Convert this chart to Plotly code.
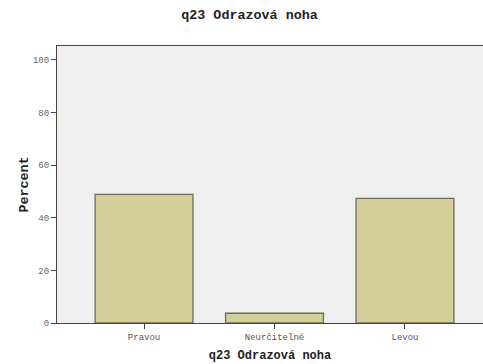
import plotly.graph_objects as go

# Share of respondents by take-off leg
categories = ["Pravou", "Neurčitelné", "Levou"]
percent = [48.9, 3.7, 47.4]
y_ticks = [0, 20, 40, 60, 80, 100]

mono = "Liberation Mono"

fig = go.Figure(
    go.Bar(
        x=categories,
        y=percent,
        width=0.75,
        marker=dict(color="#d4cf98", line=dict(color="#6e6c58", width=1.3)),
        hoverinfo="x+y",
    )
)

fig.update_layout(
    width=483,
    height=364,
    margin=dict(l=57, r=0, t=46, b=41),
    paper_bgcolor="white",
    plot_bgcolor="#efefef",
    showlegend=False,
    title=dict(
        text="<b>q23 Odrazová noha</b>",
        x=0.5166,
        xanchor="center",
        xref="container",
        y=0.96,
        yanchor="middle",
        font=dict(family=mono, size=13.4, color="#222"),
    ),
    bargap=0.25,
)

fig.update_xaxes(
    range=[-0.667, 2.598],
    showline=True,
    linecolor="#444",
    linewidth=1.2,
    mirror=True,
    ticks="outside",
    ticklen=5,
    tickcolor="#444",
    tickfont=dict(family=mono, size=9, color="#555"),
    title=dict(
        text="<b>q23 Odrazová noha</b>",
        font=dict(family=mono, size=12, color="#222"),
        standoff=8,
    ),
    showgrid=False,
)

fig.update_yaxes(
    range=[0, 105.3],
    tickvals=y_ticks,
    showline=True,
    linecolor="#444",
    linewidth=1.2,
    ticks="outside",
    ticklen=5,
    tickcolor="#444",
    tickfont=dict(family=mono, size=9, color="#666"),
    title=dict(
        text="<b>Percent</b>",
        font=dict(family=mono, size=13.4, color="#222"),
        standoff=1,
    ),
    showgrid=False,
    zeroline=False,
)

fig.write_html("out.html")
